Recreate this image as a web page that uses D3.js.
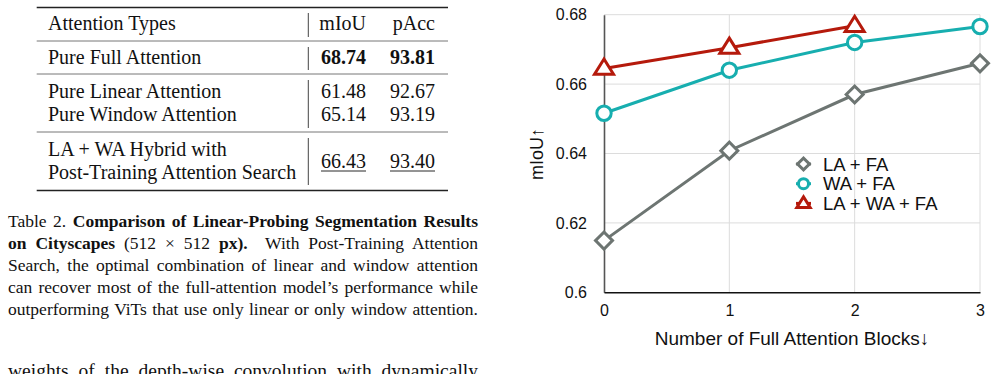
<!DOCTYPE html>
<html>
<head>
<meta charset="utf-8">
<script src="https://cdn.jsdelivr.net/npm/d3@7"></script>
<style>
  body { margin: 0; background: #fff; overflow: hidden; }
  #page { position: relative; width: 999px; height: 374px; }
  svg { position: absolute; left: 0; top: 0; }
  .serif { font-family: "Liberation Serif", "Times New Roman", serif; }
  .sans { font-family: "Liberation Sans", Arial, Helvetica, sans-serif; }
  #caption {
    position: absolute; left: 8px; top: 210px; width: 470px;
    font-size: 17.5px; line-height: 22px; color: #111;
  }
  #caption div, #body {
    text-align: justify; text-align-last: justify; white-space: nowrap;
  }
  #body {
    position: absolute; left: 8px; top: 359px; width: 470px;
    font-size: 19.5px; line-height: 23px; color: #111;
  }
</style>
</head>
<body>
<div id="page">
  <svg id="fig" width="999" height="374"></svg>
  <div id="caption" class="serif"></div>
  <div id="body" class="serif"></div>
</div>
<script>
// table data
var tableHeader = ["Attention Types", "mIoU", "pAcc"];
var tableGroups = [
  [["Pure Full Attention"], "68.74", "93.81", "bold"],
  [["Pure Linear Attention"], "61.48", "92.67", ""],
  [["Pure Window Attention"], "65.14", "93.19", ""],
  [["LA + WA Hybrid with", "Post-Training Attention Search"], "66.43", "93.40", "underline"]
];

// caption lines as in the paper
var captionLines = [
  "Table 2. <b>Comparison of Linear-Probing Segmentation Results</b>",
  "<b>on Cityscapes</b> (512 &times; 512 <b>px).</b>&nbsp; With Post-Training Attention",
  "Search, the optimal combination of linear and window attention",
  "can recover most of the full-attention model\u2019s performance while",
  "outperforming ViTs that use only linear or only window attention."
];

// chart data
var blocks = [0, 1, 2, 3];
var seriesNames = ["LA + FA", "WA + FA", "LA + WA + FA"];
var laFa = [0.6149, 0.6408, 0.6570, 0.6660];
var waFa = [0.6516, 0.6640, 0.6720, 0.6766];
var laWaFa = [0.6645, 0.6705, 0.6768];
var yTicks = [0.6, 0.62, 0.64, 0.66, 0.68];
var colors = ["#6d7572", "#17aeaf", "#b51a0c"];

var svg = d3.select("#fig");

/* ---------- table ---------- */
var tbl = svg.append("g").attr("class", "serif").style("font-size", "20px").attr("fill", "#111");
var tL = 36.7, tR = 448, colX = 48, vLine = 308.3, c1 = 366, c2 = 435;

function rule(y, w, col) {
  tbl.append("line").attr("x1", tL).attr("x2", tR).attr("y1", y).attr("y2", y)
    .attr("stroke", col).attr("stroke-width", w);
}
rule(7.5, 1.4, "#222");
rule(41, 0.9, "#666");
rule(74, 0.9, "#666");
rule(132, 0.9, "#666");
rule(190.5, 1.4, "#222");

[[13, 37], [47, 70], [80, 128], [138, 185]].forEach(function (s) {
  tbl.append("line").attr("x1", vLine).attr("x2", vLine).attr("y1", s[0]).attr("y2", s[1])
    .attr("stroke", "#444").attr("stroke-width", 1);
});

tbl.append("text").attr("x", colX).attr("y", 30).text(tableHeader[0]);
tbl.append("text").attr("x", c1).attr("y", 30).attr("text-anchor", "end").text(tableHeader[1]);
tbl.append("text").attr("x", c2).attr("y", 30).attr("text-anchor", "end").text(tableHeader[2]);

var rowBase = [[64.3], [97.7], [121], [155.7, 179]];
var numBase = [64.3, 97.7, 121, 167.5];
tableGroups.forEach(function (r, i) {
  r[0].forEach(function (line, j) {
    tbl.append("text").attr("x", colX).attr("y", rowBase[i][j]).text(line);
  });
  [r[1], r[2]].forEach(function (v, k) {
    var t = tbl.append("text").attr("x", k == 0 ? c1 : c2).attr("y", numBase[i])
      .attr("text-anchor", "end").text(v);
    if (r[3] == "bold") t.attr("font-weight", "bold");
    if (r[3] == "underline") {
      var w = t.node().getComputedTextLength();
      var xr = k == 0 ? c1 : c2;
      tbl.append("line").attr("x1", xr - w).attr("x2", xr)
        .attr("y1", numBase[i] + 3.5).attr("y2", numBase[i] + 3.5)
        .attr("stroke", "#111").attr("stroke-width", 0.9);
    }
  });
});

/* ---------- caption + body text ---------- */
d3.select("#caption").selectAll("div").data(captionLines).enter().append("div")
  .html(function (d) { return d; });
d3.select("#body").text("weights of the depth-wise convolution with dynamically");

/* ---------- chart ---------- */
var x = d3.scaleLinear().domain([0, 3]).range([604, 980]);
var y = d3.scaleLinear().domain([0.6, 0.68]).range([292.3, 14.7]);

var chart = svg.append("g").attr("class", "sans");

// grid
chart.append("g").selectAll("line").data(yTicks.slice(1)).enter().append("line")
  .attr("x1", x(0)).attr("x2", x(3))
  .attr("y1", function (d) { return y(d); }).attr("y2", function (d) { return y(d); })
  .attr("stroke", "#dcdcdc").attr("stroke-width", 1);
chart.append("g").selectAll("line").data(blocks.slice(1)).enter().append("line")
  .attr("x1", function (d) { return x(d); }).attr("x2", function (d) { return x(d); })
  .attr("y1", y(0.68)).attr("y2", y(0.6))
  .attr("stroke", "#dcdcdc").attr("stroke-width", 1);

// axes
var axisFont = "'Liberation Sans', Arial, Helvetica, sans-serif";
var yAxis = d3.axisLeft(y).tickValues(yTicks).tickSize(0).tickPadding(17)
  .tickFormat(function (d) { return d3.format(".2~f")(d); });
var gy = chart.append("g").attr("transform", "translate(" + x(0) + ",0)").call(yAxis)
  .attr("font-family", axisFont).attr("font-size", 16);
gy.select(".domain").attr("stroke", "#555").attr("stroke-width", 1.6);
gy.selectAll("text").attr("fill", "#111");

var xAxis = d3.axisBottom(x).tickValues(blocks).tickSize(0).tickPadding(12)
  .tickFormat(d3.format("d"));
var gx = chart.append("g").attr("transform", "translate(0," + y(0.6) + ")").call(xAxis)
  .attr("font-family", axisFont).attr("font-size", 16);
gx.select(".domain").attr("stroke", "#111").attr("stroke-width", 1.4);
gx.selectAll("text").attr("fill", "#111");

chart.append("text").attr("transform", "translate(543,154) rotate(-90)")
  .attr("text-anchor", "middle").attr("font-size", "18px").attr("fill", "#111").text("mIoU\u2191");
chart.append("text").attr("x", 792).attr("y", 345)
  .attr("text-anchor", "middle").attr("font-size", "19px").attr("fill", "#111")
  .text("Number of Full Attention Blocks\u2193");

// markers
function marker(g, kind, cx, cy, s, col) {
  if (kind == 0) {
    g.append("rect").attr("x", cx - s * 0.6).attr("y", cy - s * 0.6)
      .attr("width", s * 1.2).attr("height", s * 1.2)
      .attr("transform", "rotate(45," + cx + "," + cy + ")")
      .attr("fill", "#fff").attr("stroke", col).attr("stroke-width", 3);
  } else if (kind == 1) {
    g.append("circle").attr("cx", cx).attr("cy", cy).attr("r", s * 0.72)
      .attr("fill", "#fff").attr("stroke", col).attr("stroke-width", 3);
  } else {
    var h = s * 0.95;
    g.append("path")
      .attr("d", "M" + cx + "," + (cy - h) + "L" + (cx + s * 0.95) + "," + (cy + h * 0.6) +
        "L" + (cx - s * 0.95) + "," + (cy + h * 0.6) + "Z")
      .attr("fill", "#fff").attr("stroke", col).attr("stroke-width", 3)
      .attr("stroke-linejoin", "miter");
  }
}

var series = [laFa, waFa, laWaFa];
var line = d3.line().x(function (d, i) { return x(blocks[i]); }).y(function (d) { return y(d); });

series.forEach(function (s, k) {
  var g = chart.append("g");
  g.append("path").datum(s).attr("d", line).attr("fill", "none")
    .attr("stroke", colors[k]).attr("stroke-width", 3);
  s.forEach(function (v, i) { marker(g, k, x(blocks[i]), y(v), 10, colors[k]); });
});

// legend
var leg = chart.append("g");
seriesNames.forEach(function (n, i) {
  var ly = 164 + i * 19.7;
  leg.append("line").attr("x1", 796).attr("x2", 811).attr("y1", ly).attr("y2", ly)
    .attr("stroke", colors[i]).attr("stroke-width", 3);
  marker(leg, i, 803.5, ly, 7, colors[i]);
  leg.append("text").attr("x", 823).attr("y", ly + 6.5).attr("font-size", "18.5px")
    .attr("fill", "#111").text(n);
});
</script>
</body>
</html>
